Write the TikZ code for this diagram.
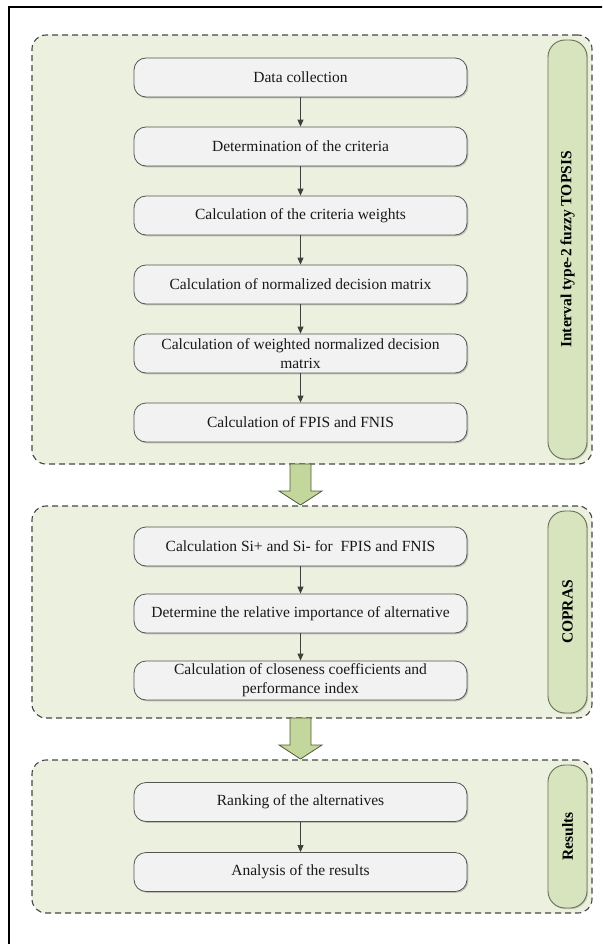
\documentclass[tikz,border=0pt]{standalone}
\usepackage{fontspec}
\setmainfont{Liberation Serif}
\usetikzlibrary{arrows.meta,shadows,calc}
\definecolor{grpfill}{RGB}{235,241,222}
\definecolor{dashgray}{RGB}{70,70,70}
\definecolor{tabfill}{RGB}{215,228,189}
\definecolor{tabborder}{RGB}{100,110,85}
\definecolor{boxfill}{RGB}{242,242,242}
\definecolor{boxborder}{RGB}{85,85,85}
\definecolor{arrowgreen}{RGB}{195,214,155}
\definecolor{arrowborder}{RGB}{80,90,60}
\definecolor{conncol}{RGB}{64,64,64}
\begin{document}
\begin{tikzpicture}[x=1pt,y=-1pt,
  group/.style={draw=dashgray, dash pattern=on 6pt off 4pt, line width=1.1pt, fill=grpfill,
    rounded corners=14pt, minimum width=560pt, inner sep=0pt},
  tabbox/.style={draw=tabborder, fill=tabfill, line width=0.9pt, rounded corners=17pt,
    minimum height=39pt, inner sep=0pt, rotate=90,
    font=\fontsize{15.5}{18}\selectfont\bfseries,
    drop shadow={shadow xshift=1.2pt, shadow yshift=-1.2pt, fill=black, opacity=.15}},
  stepbox/.style={draw=boxborder, fill=boxfill, line width=0.8pt, rounded corners=12pt,
    minimum width=333pt, minimum height=39pt, inner sep=1pt, align=center,
    font=\fontsize{15.5}{19}\selectfont, text=black!90,
    drop shadow={shadow xshift=1.3pt, shadow yshift=-1.3pt, fill=black, opacity=.2}},
  conn/.style={draw=conncol, line width=0.9pt, -{Triangle[length=7pt,width=6pt]}},
  bigarrow/.style={fill=arrowgreen, draw=arrowborder, line width=0.8pt, line join=miter}
]
\useasboundingbox (0,0) rectangle (602,944);
\clip (0,0) rectangle (602,944);
% outer frame
\draw[line width=1.7pt] (9,960) -- (9,7) -- (620,7);

% groups
\node[group, minimum height=429pt] (g1) at (312,249.5) {};
\node[group, minimum height=212pt] (g2) at (312,612) {};
\node[group, minimum height=153pt] (g3) at (312,836.5) {};

% tabs
\node[tabbox, minimum width=419pt] (t1) at (567.5,249.5) {Interval type-2 fuzzy TOPSIS};
\node[tabbox, minimum width=202pt] (t2) at (567.5,612) {COPRAS};
\node[tabbox, minimum width=143pt] (t3) at (567.5,836.5) {Results};

% steps group 1
\node[stepbox] (b1) at (300.5,77.5) {Data collection};
\node[stepbox] (b2) at (300.5,146.5) {Determination of the criteria};
\node[stepbox] (b3) at (300.5,215.5) {Calculation of the criteria weights};
\node[stepbox] (b4) at (300.5,284.5) {Calculation of normalized decision matrix};
\node[stepbox] (b5) at (300.5,353.5) {Calculation of weighted normalized decision\\matrix};
\node[stepbox] (b6) at (300.5,422.5) {Calculation of FPIS and FNIS};
% steps group 2
\node[stepbox] (b7) at (300.5,546.5) {Calculation Si+ and Si- for \ FPIS and FNIS};
\node[stepbox] (b8) at (300.5,613.5) {Determine the relative importance of alternative};
\node[stepbox] (b9) at (300.5,680.5) {Calculation of closeness coefficients and\\performance index};
% steps group 3
\node[stepbox] (b10) at (300.5,802) {Ranking of the alternatives};
\node[stepbox] (b11) at (300.5,872) {Analysis of the results};

% connectors
\draw[conn] (b1) -- (b2);
\draw[conn] (b2) -- (b3);
\draw[conn] (b3) -- (b4);
\draw[conn] (b4) -- (b5);
\draw[conn] (b5) -- (b6);
\draw[conn] (b7) -- (b8);
\draw[conn] (b8) -- (b9);
\draw[conn] (b10) -- (b11);

% big green arrows between groups
\coordinate (a1) at (300.5,464);
\coordinate (a2) at (300.5,718);
\draw[bigarrow] (a1) ++(-10.5,0) -- ++(21,0) -- ++(0,27) -- ++(11,0) -- ++(-21.5,14)
  -- ++(-21.5,-14) -- ++(11,0) -- cycle;
\draw[bigarrow] (a2) ++(-10.5,0) -- ++(21,0) -- ++(0,27) -- ++(11,0) -- ++(-21.5,14)
  -- ++(-21.5,-14) -- ++(11,0) -- cycle;
\end{tikzpicture}
\end{document}
